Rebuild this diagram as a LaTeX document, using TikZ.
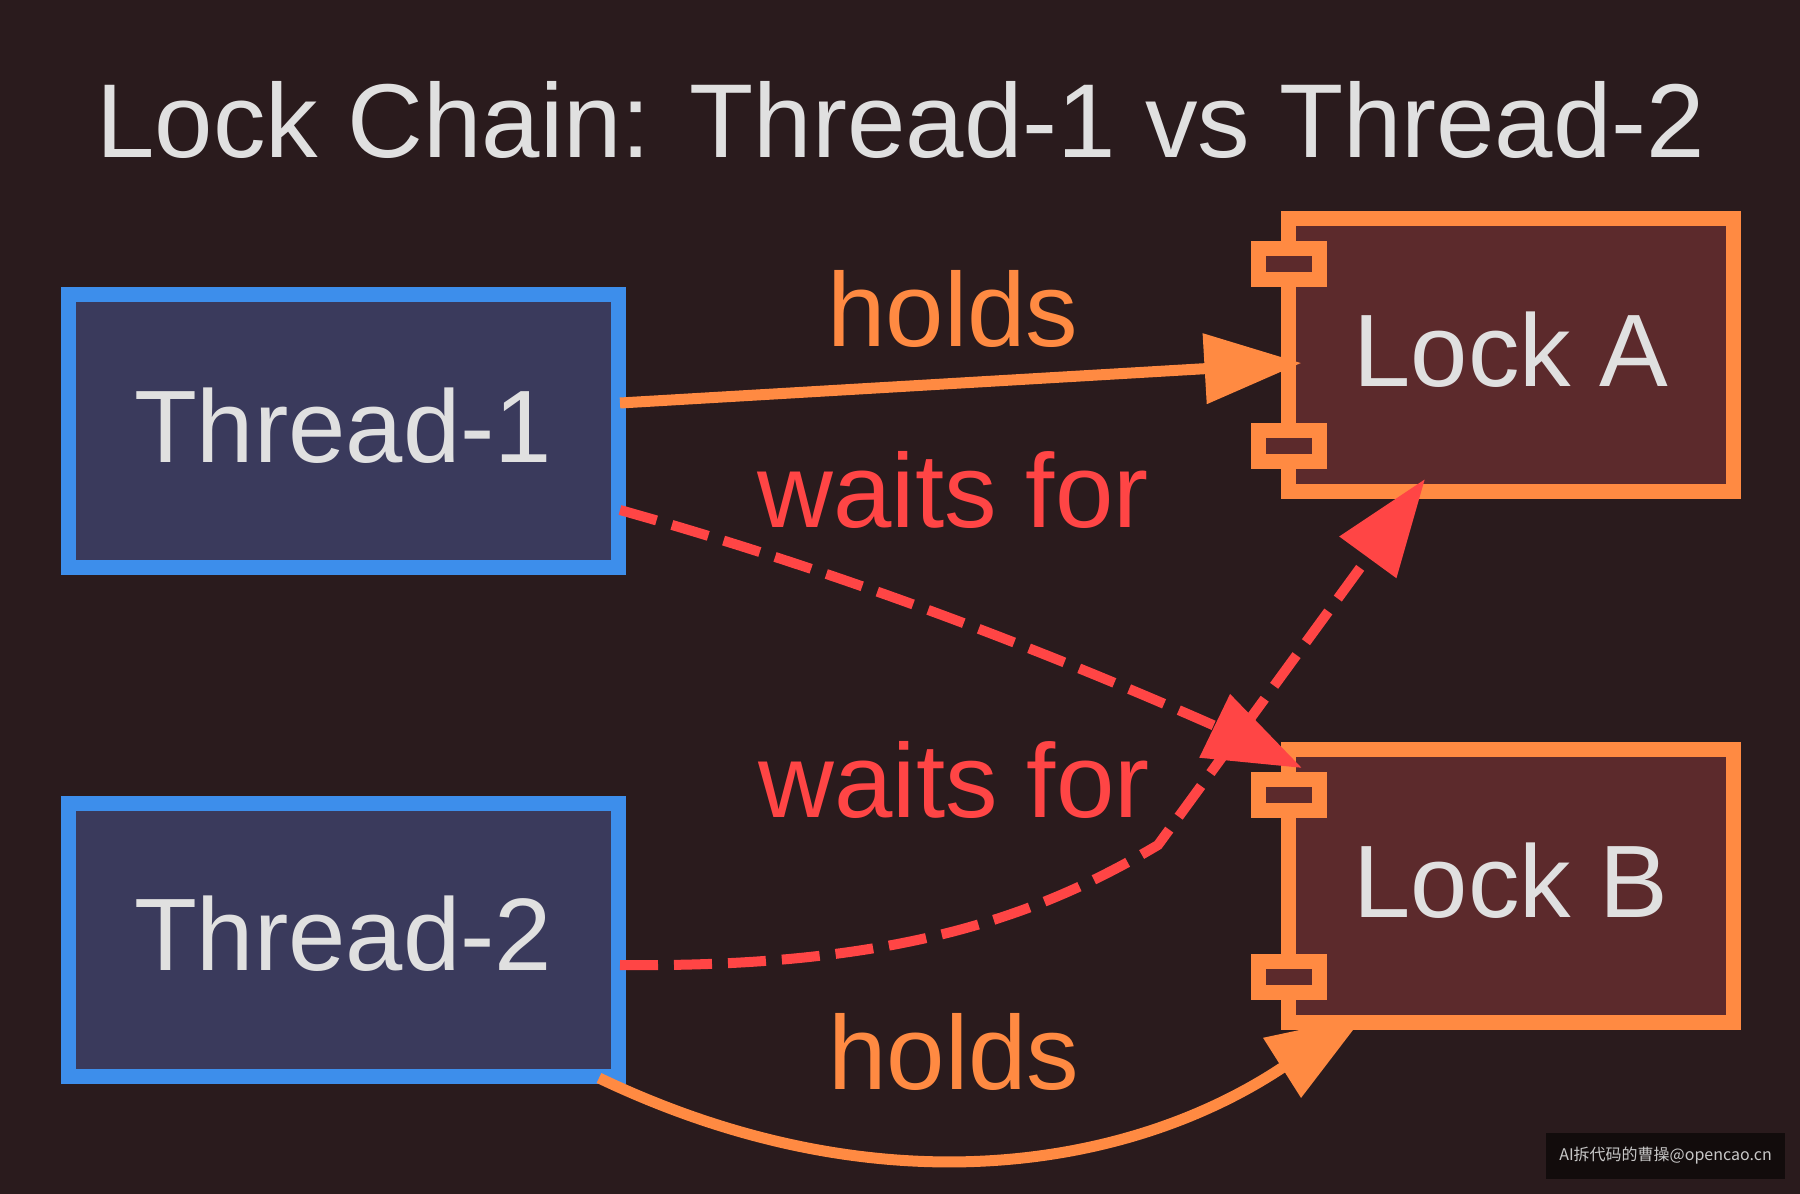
\documentclass[tikz,border=0pt]{standalone}
\usepackage{fontspec}
\setmainfont{Liberation Sans}
\newfontfamily\cjkfont{Noto Sans CJK SC}
\usepackage{xcolor}
\definecolor{bgdark}{RGB}{42,27,29}
\definecolor{thfill}{RGB}{58,58,92}
\definecolor{thblue}{RGB}{61,142,235}
\definecolor{lkfill}{RGB}{92,42,44}
\definecolor{lkorange}{RGB}{255,138,66}
\definecolor{wtred}{RGB}{255,69,69}
\definecolor{txtgray}{RGB}{224,224,224}
\definecolor{wmblack}{RGB}{18,12,12}
\definecolor{wmgray}{RGB}{200,200,200}
\usepackage{tikz}
\usetikzlibrary{arrows.meta,calc}

\begin{document}
\begin{tikzpicture}[x=1pt, y=-1pt,
  thread/.style={draw=thblue, fill=thfill, line width=15pt, minimum width=550pt, minimum height=273pt,
    inner sep=0pt, outer sep=0pt, text=txtgray, font=\fontsize{103}{110}\selectfont, text height=74pt, text depth=12pt},
  lock/.style={thread, draw=lkorange, fill=lkfill, minimum width=445pt},
  tab/.style={draw=lkorange, fill=lkfill, line width=15pt},
  lbl/.style={anchor=base, font=\fontsize{105}{110}\selectfont},
  holds/.style={lkorange, line width=11pt, -{Triangle[length=97pt, width=68pt]}},
  waits/.style={wtred, line width=10pt, dash pattern=on 38pt off 16pt, -{Triangle[length=97pt, width=68pt]}}]

  % --- canvas ---
  \fill[bgdark] (0,0) rectangle (1800,1194);
  \useasboundingbox (0,0) rectangle (1800,1194);

  % --- title ---
  \node[lbl, text=txtgray] (ttl) at (901,157) {Lock Chain: Thread-1 vs Thread-2};

  % --- threads (left) ---
  \node[thread] (t1) at (343,431)   {Thread-1};
  \node[thread] (t2) at (343,939.5) {Thread-2};

  % --- locks (right), component tabs on the left edge ---
  \node[lock] (la) at (1511,355) {Lock A};
  \node[lock] (lb) at (1511,886) {Lock B};
  \foreach \l in {la,lb} {
    \draw[tab] ($(\l.north west)+(-30.5,30)$) rectangle ++(61,31);
    \draw[tab] ($(\l.south west)+(-30.5,-61)$) rectangle ++(61,31);
  }

  % --- edge labels ---
  \node[lbl, text=lkorange] (h1) at (953,346)  {holds};
  \node[lbl, text=wtred]    (w1) at (953,527)  {waits for};
  \node[lbl, text=wtred]    (w2) at (954,817)  {waits for};
  \node[lbl, text=lkorange] (h2) at (954,1089) {holds};

  % --- edges ---
  \draw[holds] ($(t1.east)+(2,-28)$) -- ($(la.west)+(13,8)$);
  \draw[waits] ($(t1.east)+(2,79)$) .. controls (820,566) and (1020,640) .. (1214,725.5)
    -- ($(lb.north west)+(13.5,18.5)$);
  \draw[waits] ($(t2.east)+(2,25.5)$) .. controls (900,968) and (1040,915) .. (1158,845)
    -- ($(la.south)+(-86,-12.5)$);
  \draw[holds] ($(t2.south east)+(-19,2)$) .. controls (880,1212) and (1130,1168) .. (1281,1068.5)
    -- ($(lb.south)+(-147,-6.5)$);

  % --- watermark ---
  \node[fill=wmblack, text=wmgray, minimum width=239pt, minimum height=46pt, inner sep=0pt,
        font=\cjkfont\fontsize{16}{20}\selectfont] (wm) at (1665.5,1155.5) {AI拆代码的曹操@opencao.cn};
\end{tikzpicture}
\end{document}
